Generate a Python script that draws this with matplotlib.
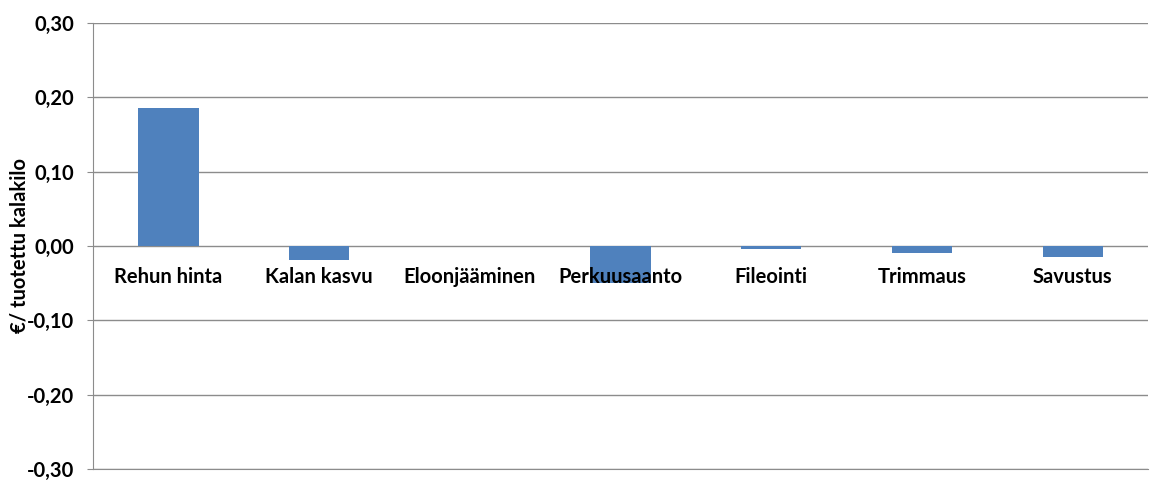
import matplotlib.pyplot as plt
from matplotlib.ticker import FuncFormatter

# Tekijät ja niiden vaikutus (€/ tuotettu kalakilo)
categories = ['Rehun hinta', 'Kalan kasvu', 'Eloonjääminen', 'Perkuusaanto',
              'Fileointi', 'Trimmaus', 'Savustus']
values = [0.185, -0.019, 0.0, -0.050, -0.0035, -0.010, -0.015]
yticks = [-0.3, -0.2, -0.1, 0.0, 0.1, 0.2, 0.3]

plt.rcParams['font.family'] = ['Lato', 'DejaVu Sans']

fig = plt.figure(figsize=(11.53, 4.84), dpi=100)
ax = fig.add_axes([0.0807, 0.031, 0.915, 0.9215])

x = range(len(categories))
ax.bar(x, values, width=0.4, color='#4F81BD', zorder=2)

ax.set_xlim(-0.5, len(categories) - 0.5)
ax.set_ylim(-0.3, 0.3)
ax.set_yticks(yticks)
ax.yaxis.set_major_formatter(FuncFormatter(lambda v, p: f'{v:.2f}'.replace('.', ',')))
ax.grid(axis='y', color='#8c8c8c', linewidth=1, zorder=0)
ax.set_axisbelow(True)

for s in ['top', 'right']:
    ax.spines[s].set_visible(False)
ax.spines['left'].set_color('#8c8c8c')
ax.spines['bottom'].set_color('#8c8c8c')

ax.tick_params(axis='y', length=4, color='#8c8c8c', pad=9.5, labelsize=14.5)
for lab in ax.get_yticklabels():
    lab.set_fontweight('bold')
ax.set_xticks([])

# Kategorianimet heti nollaviivan alle
for i, name in enumerate(categories):
    ax.annotate(name, xy=(i, 0), xytext=(0, -15), textcoords='offset points',
                ha='center', va='top', fontsize=14.5, fontweight='bold', zorder=3)

ax.set_ylabel('€/ tuotettu kalakilo', fontsize=14.5, fontweight='bold', labelpad=-2)

fig.savefig('out.png', dpi=100)
